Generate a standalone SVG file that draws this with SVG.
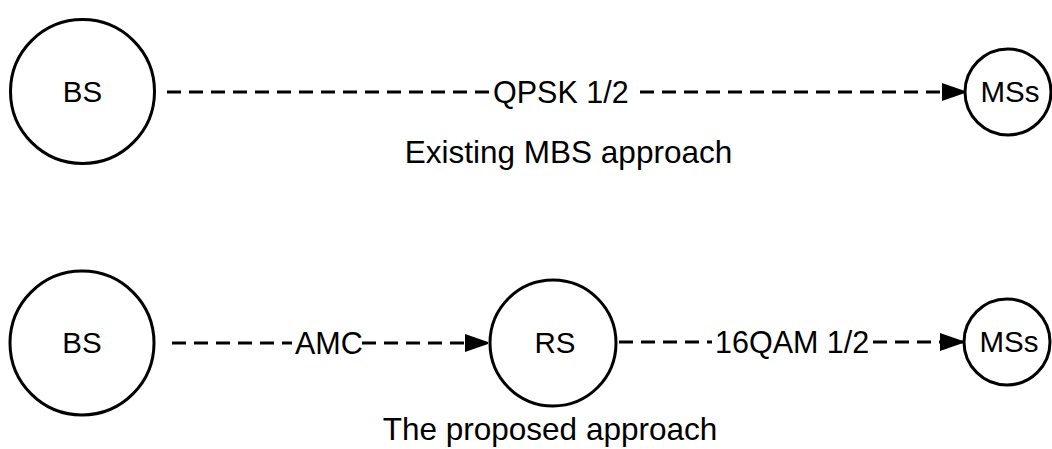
<svg xmlns="http://www.w3.org/2000/svg" width="1052" height="449" viewBox="0 0 1052 449">
<style>
.node{fill:#fff;stroke:#000;stroke-width:3}
.nl{font-family:"Liberation Sans",Arial,sans-serif;font-size:29.5px;fill:#000;text-anchor:middle}
.el{font-family:"Liberation Sans",Arial,sans-serif;font-size:30.5px;fill:#000}
.cap{font-family:"Liberation Sans",Arial,sans-serif;font-size:31.5px;fill:#000;text-anchor:middle}
.dash{fill:none;stroke:#000;stroke-width:3;stroke-dasharray:14 8}
</style>
<defs>
<marker id="arr" viewBox="0 0 23 18" refX="23" refY="9" markerWidth="23" markerHeight="18" markerUnits="userSpaceOnUse" orient="auto">
<path d="M0,0 L23,8 L23,10 L0,18 Z" fill="#000"/>
</marker>
</defs>
<g id="connectors">
<path class="dash" d="M167,92 H491"/>
<path class="dash" d="M640,92 H965" marker-end="url(#arr)"/>
<text class="el" x="493" y="102.5">QPSK 1/2</text>
<path class="dash" d="M172,343 H292"/>
<path class="dash" d="M362,343 H488" marker-end="url(#arr)"/>
<text class="el" x="295" y="353.5">AMC</text>
<path class="dash" d="M619,342 H712"/>
<path class="dash" d="M873,342 H963" marker-end="url(#arr)"/>
<text class="el" x="715" y="352.5">16QAM 1/2</text>
</g>
<g id="bs1">
<circle class="node" cx="82.5" cy="91.5" r="72"/>
<text class="nl" x="82.5" y="101.5">BS</text>
</g>
<g id="ms1">
<circle class="node" cx="1008" cy="92" r="43"/>
<text class="nl" x="1010" y="102">MSs</text>
</g>
<g id="bs2">
<circle class="node" cx="82" cy="343" r="72"/>
<text class="nl" x="82" y="353">BS</text>
</g>
<g id="rs">
<circle class="node" cx="553" cy="343" r="63"/>
<text class="nl" x="555" y="353">RS</text>
</g>
<g id="ms2">
<circle class="node" cx="1007" cy="342" r="43"/>
<text class="nl" x="1009" y="352">MSs</text>
</g>
<text class="cap" x="568.5" y="163">Existing MBS approach</text>
<text class="cap" x="550" y="440">The proposed approach</text>
</svg>
